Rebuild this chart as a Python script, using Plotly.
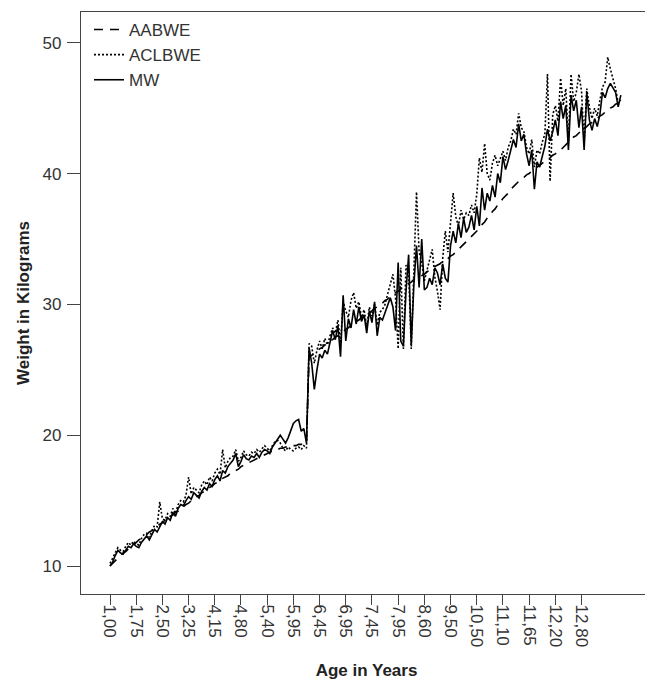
import plotly.graph_objects as go

tick_labels = ["1,00", "1,75", "2,50", "3,25", "4,15", "4,80", "5,40", "5,95", "6,45",
               "6,95", "7,45", "7,95", "8,60", "9,50", "10,50", "11,10", "11,65", "12,20", "12,80"]
points_per_tick = 10

aabwe = [
    10.0, 10.2, 10.4, 10.6, 10.8, 11.0, 11.1, 11.3, 11.5, 11.6,
    11.8, 12.0, 12.1, 12.3, 12.4, 12.6, 12.7, 12.9, 13.0, 13.2,
    13.3, 13.5, 13.6, 13.8, 13.9, 14.1, 14.2, 14.4, 14.5, 14.7,
    14.8, 15.0, 15.1, 15.3, 15.4, 15.6, 15.7, 15.9, 16.0, 16.1,
    16.3, 16.4, 16.5, 16.7, 16.8, 16.9, 17.1, 17.2, 17.3, 17.4,
    17.6, 17.7, 17.8, 17.9, 18.0, 18.1, 18.2, 18.3, 18.4, 18.5,
    18.6, 18.7, 18.8, 18.8, 18.9, 19.0, 19.0, 19.1, 19.1, 19.2,
    19.2, 19.2, 19.3, 19.3, 19.3, 19.4, 26.0, 26.1, 26.3, 26.4,
    26.6, 26.7, 26.9, 27.0, 27.2, 27.3, 27.5, 27.6, 27.8, 27.9,
    28.1, 28.2, 28.4, 28.5, 28.7, 28.8, 29.0, 29.1, 29.3, 29.4,
    29.5, 29.7, 29.8, 30.0, 30.1, 30.3, 30.4, 30.6, 30.7, 30.9,
    31.0, 31.2, 31.3, 31.4, 31.6, 31.7, 31.9, 32.0, 32.1, 32.2,
    32.3, 32.5, 32.6, 32.7, 32.9, 33.0, 33.1, 33.3, 33.4, 33.5,
    33.7, 33.8, 34.0, 34.2, 34.4, 34.6, 34.8, 35.0, 35.2, 35.4,
    35.6, 35.8, 36.1, 36.3, 36.6, 36.8, 37.1, 37.3, 37.6, 37.8,
    38.1, 38.3, 38.5, 38.8, 39.0, 39.2, 39.4, 39.5, 39.7, 39.9,
    40.0, 40.2, 40.3, 40.5, 40.6, 40.8, 40.9, 41.1, 41.2, 41.4,
    41.5, 41.7, 41.8, 42.0, 42.2, 42.4, 42.6, 42.8, 42.9, 43.1,
    43.3, 43.4, 43.6, 43.8, 43.9, 44.1, 44.2, 44.4, 44.5, 44.7,
    44.8, 45.0, 45.1, 45.3, 45.4, 45.6,
]

aclbwe = [
    10.2, 10.6, 11.0, 11.4, 11.2, 11.1, 11.5, 11.8, 11.6, 11.9,
    11.7, 11.6, 12.1, 12.4, 12.5, 12.2, 12.7, 13.1, 13.0, 14.9,
    13.6, 13.5, 14.0, 13.8, 14.4, 14.0, 14.7, 15.0, 14.9, 15.4,
    16.8, 15.5, 16.0, 15.8, 15.6, 16.2, 16.5, 16.2, 16.8, 16.5,
    17.1, 17.4, 17.0, 18.9, 17.5, 18.0, 18.3, 18.4, 18.9, 18.0,
    18.3, 18.8, 18.5, 18.4, 18.7, 18.6, 18.9, 18.7, 19.0, 19.2,
    19.0, 18.8, 19.2, 19.5, 19.6, 19.4, 19.0, 18.8, 19.1, 18.9,
    18.8, 19.0, 19.1, 18.9, 19.2, 19.0, 27.0, 26.8, 25.5, 26.5,
    27.2, 26.6, 27.4, 26.9, 27.6, 28.2, 27.8, 28.8, 27.0, 30.2,
    29.5, 29.0, 30.3, 30.9, 29.7, 30.2, 29.0, 29.6, 28.3, 29.8,
    29.1, 30.0, 28.4, 29.4, 29.6, 30.0, 30.8, 31.5, 32.3, 30.5,
    26.6, 32.8, 26.6, 33.0, 32.5, 26.6, 33.5, 38.6, 34.0, 33.2,
    31.8, 32.5, 33.4, 34.2, 32.1, 31.0, 29.6, 33.5, 35.6, 34.0,
    36.2, 38.5, 36.7, 36.0, 37.2, 36.5, 37.0, 36.8, 37.6, 37.0,
    38.4, 41.2, 40.1, 42.3, 40.0, 39.5, 40.8, 41.4, 40.6, 41.2,
    41.7, 41.0, 42.0, 42.5, 43.4, 43.0, 44.6, 43.5, 43.2, 42.0,
    41.5, 42.6, 40.5, 41.8, 41.5, 42.4, 43.0, 47.6, 39.4, 44.5,
    45.2, 44.0, 47.3, 45.2, 46.5, 42.5, 47.6, 45.5, 46.2, 47.6,
    46.3, 42.4, 46.5, 45.1, 44.2, 45.0, 44.4, 45.6, 46.6, 47.0,
    48.9, 48.0, 47.2, 46.5, 45.4, 45.6,
]

mw = [
    10.0, 10.3, 10.8, 11.2, 11.0, 10.9, 11.2, 11.5, 11.4, 11.7,
    11.5, 11.4, 11.8, 12.1, 12.3, 12.0, 12.4, 12.8, 12.6, 13.0,
    13.4, 13.2, 13.7, 13.5, 14.1, 13.8, 14.4, 14.7, 14.6, 15.0,
    15.3, 15.1, 15.6, 15.4, 15.2, 15.7, 16.0, 15.8, 16.3, 16.1,
    16.6, 16.9, 16.5, 17.3, 17.1, 17.6, 17.9, 18.1, 18.6, 17.6,
    18.0, 18.5, 18.2, 18.1, 18.4, 18.3, 18.6, 18.3, 18.7, 18.9,
    18.8, 18.6, 19.1, 19.4, 19.8, 20.0, 19.7, 19.4, 19.8, 20.4,
    20.9, 21.1, 21.2, 20.3, 20.5, 19.4, 26.7, 25.5, 23.5, 25.0,
    26.2, 25.9, 26.5, 26.2, 27.0, 28.0, 27.3, 28.4, 26.0, 30.7,
    27.2, 28.9, 28.2, 29.6, 28.5, 29.8, 28.7, 29.2, 27.8, 29.5,
    28.6, 30.2, 27.6, 29.0, 28.8, 29.4, 29.9, 30.5, 29.8, 28.0,
    33.2, 27.2, 26.8, 31.0, 33.8, 26.9, 31.5, 34.5, 31.3, 35.0,
    31.1, 31.3, 32.0, 31.5, 32.8, 32.4, 31.5, 33.1, 32.0, 31.7,
    34.5, 35.6, 34.7, 36.2, 35.1, 36.6, 35.5, 35.9, 36.8, 35.7,
    37.5, 36.0, 38.9, 37.2, 38.5, 37.9, 39.1, 38.2, 40.0, 39.3,
    41.3, 40.3, 41.0, 41.8, 42.6, 42.0, 43.8, 42.5, 43.0, 41.5,
    40.6, 41.8, 38.8, 40.9, 40.5, 41.3, 42.1, 43.4, 42.5, 43.2,
    44.1, 42.9, 45.5, 44.2, 45.2, 41.8, 46.0, 44.8, 45.6, 43.5,
    45.1, 41.8, 46.2, 44.1, 43.3, 44.2, 43.6, 44.5, 46.2, 45.8,
    46.5, 46.9, 46.6, 46.2, 45.1, 46.0,
]

x_idx = list(range(len(mw)))
tick_vals = [k * points_per_tick for k in range(len(tick_labels))]

FONT = "Liberation Sans, Arial, sans-serif"
LINE_W = 1.6

fig = go.Figure()
fig.add_trace(go.Scatter(x=x_idx, y=aabwe, mode="lines", name="AABWE",
                         line=dict(color="black", width=LINE_W, dash="9px,7px")))
fig.add_trace(go.Scatter(x=x_idx, y=aclbwe, mode="lines", name="ACLBWE",
                         line=dict(color="black", width=LINE_W, dash="2px,2px")))
fig.add_trace(go.Scatter(x=x_idx, y=mw, mode="lines", name="MW",
                         line=dict(color="black", width=LINE_W)))

fig.update_layout(
    width=652, height=682,
    margin=dict(l=81, r=0, t=12, b=88, autoexpand=False),
    paper_bgcolor="white", plot_bgcolor="white",
    font=dict(family=FONT, size=17, color="#333"),
    showlegend=True,
    legend=dict(x=0.014, y=1.0, xanchor="left", yanchor="top",
                bgcolor="rgba(0,0,0,0)", font=dict(size=17, color="#333"),
                tracegroupgap=0, itemwidth=30),
    xaxis=dict(range=[-11.07, 206.9], tickmode="array", tickvals=tick_vals,
               ticktext=tick_labels, tickangle=90, ticks="outside", ticklen=10,
               tickcolor="#444", showline=True, linecolor="#444", linewidth=1.3,
               mirror=True, showgrid=False, zeroline=False, automargin=False,
               ticklabelstandoff=-4,
               title=dict(text="<b>Age in Years</b>", font=dict(size=17, color="#222"),
                          standoff=18)),
    yaxis=dict(range=[7.86, 52.35], tickmode="array", tickvals=[10, 20, 30, 40, 50],
               ticks="outside", ticklen=13, tickcolor="#444", showline=True,
               linecolor="#444", linewidth=1.3, showgrid=False, zeroline=False,
               automargin=False, mirror=False, ticklabelstandoff=2,
               title=dict(text="<b>Weight in Kilograms</b>", font=dict(size=17, color="#222"),
                          standoff=8)),
)

fig.write_html("out.html",
               config={"displayModeBar": False},
               post_script="document.body.style.margin='0';document.body.style.overflow='hidden';")
